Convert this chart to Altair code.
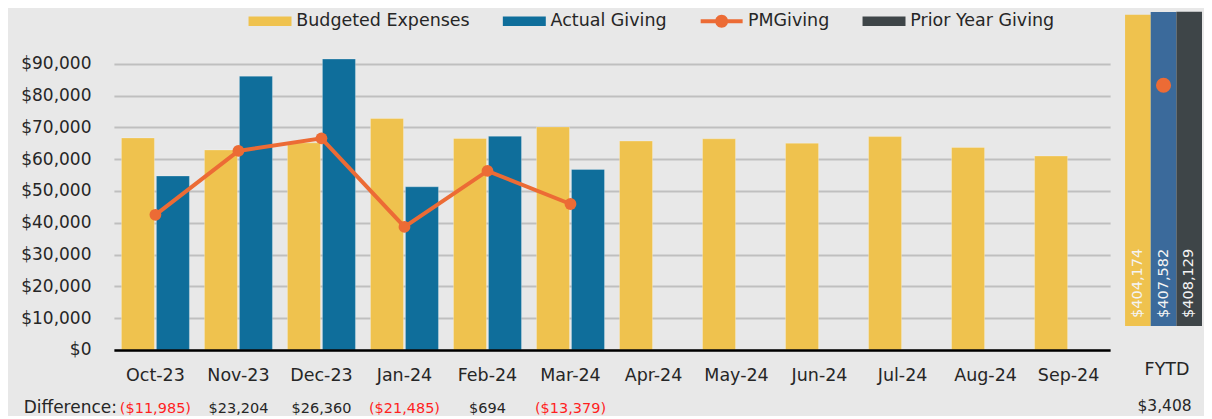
import altair as alt
import pandas as pd

# ---------------- data ----------------
months = ["Oct-23", "Nov-23", "Dec-23", "Jan-24", "Feb-24", "Mar-24",
          "Apr-24", "May-24", "Jun-24", "Jul-24", "Aug-24", "Sep-24"]
budgeted = [66685, 62896, 65140, 72785, 66506, 70161,
            65700, 66400, 65000, 67100, 63700, 61000]
actual = [54700, 86100, 91500, 51300, 67200, 56782]
pm_giving = [42500, 62600, 66550, 38700, 56300, 45900]
differences = [-11985, 23204, 26360, -21485, 694, -13379]

series_names = ["Budgeted Expenses", "Actual Giving", "PMGiving", "Prior Year Giving"]
fytd_names = ["Budgeted Expenses", "Actual Giving", "Prior Year Giving"]
fytd_values = [404174, 407582, 408129]
fytd_difference = 3408
y_ticks = [0, 10000, 20000, 30000, 40000, 50000, 60000, 70000, 80000, 90000]

# ---------------- styles ----------------
YELLOW = "#EFC24E"
BLUE = "#0F6E9B"
ORANGE = "#EC6B35"
DARK = "#3E4548"
FYTD_BLUE = "#3B6A9B"
TEXT = "#262626"
RED = "#FF1F1F"
BG = "#E8E8E8"
GRID = "#BFBFBF"
FONT = "DejaVu Sans"

W, H = 997, 335
FW, FH = 77, 311
Y_MAX = 105310
FYTD_MAX = 403587

RECT_PATH = "M-4.3,-0.95H4.3V0.95H-4.3Z"
PM_PATH = "M-4.2,-0.4H4.2V0.4H-4.2Z M-1.3,0A1.3,1.3 0 1,1 1.3,0A1.3,1.3 0 1,1 -1.3,0Z"

# ---------------- tables ----------------
bars_df = pd.DataFrame({
    "month": months + months[:len(actual)],
    "series": ["Budgeted Expenses"] * len(budgeted) + ["Actual Giving"] * len(actual),
    "value": budgeted + actual,
})
pm_df = pd.DataFrame({"month": months[:len(pm_giving)], "value": pm_giving})
diff_df = pd.DataFrame({"month": months[:len(differences)], "diff": differences})
diff_df["label"] = [f"(${abs(d):,})" if d < 0 else f"${d:,}" for d in differences]
legend_df = pd.DataFrame({"series": series_names})

color_scale = alt.Scale(domain=series_names, range=[YELLOW, BLUE, ORANGE, DARK])
shape_scale = alt.Scale(domain=series_names, range=[RECT_PATH, RECT_PATH, PM_PATH, RECT_PATH])

x_axis = alt.Axis(labelAngle=0, labelFontSize=17.5, labelColor=TEXT,
                  labelPadding=16.5, ticks=False, grid=False,
                  domainColor="#000000", domainWidth=2.5, zindex=1)
x_enc = alt.X("month:N", sort=months, title=None,
              scale=alt.Scale(paddingInner=0, paddingOuter=0), axis=x_axis)
y_scale = alt.Scale(domain=[0, Y_MAX], nice=False)
y_axis = alt.Axis(values=y_ticks, format="$,.0f", labelFontSize=17,
                  labelColor=TEXT, labelPadding=23, ticks=False,
                  domain=False, gridColor=GRID, gridWidth=2, labelOverlap=False)

legend = alt.Legend(
    title=None, orient="none", direction="horizontal",
    legendX=147.5, legendY=-3,
    symbolSize=100, symbolStrokeWidth=0, symbolOpacity=1,
    labelOffset=17.5, columnPadding=32.5, labelFontSize=17.5,
    labelColor=TEXT, labelLimit=400, labelFont=FONT,
)

bars = alt.Chart(bars_df).mark_bar(
    stroke="#FFFFFF", strokeOpacity=0.25, strokeWidth=1
).encode(
    x=x_enc,
    xOffset=alt.XOffset("series:N", sort=["Budgeted Expenses", "Actual Giving"],
                        scale=alt.Scale(domain=["Budgeted Expenses", "Actual Giving"],
                                        paddingInner=0.057, paddingOuter=0.215)),
    y=alt.Y("value:Q", scale=y_scale, title=None, axis=y_axis),
    color=alt.Color("series:N", scale=color_scale, legend=legend),
)

legend_layer = alt.Chart(legend_df).mark_point(filled=True, opacity=0, size=100).encode(
    color=alt.Color("series:N", scale=color_scale, legend=legend),
    shape=alt.Shape("series:N", scale=shape_scale, legend=legend),
)

line = alt.Chart(pm_df).mark_line(color=ORANGE, strokeWidth=4).encode(
    x=alt.X("month:N", sort=months, title=None, axis=x_axis),
    y=alt.Y("value:Q", title=None, axis=y_axis),
)
points = alt.Chart(pm_df).mark_circle(color=ORANGE, size=140, opacity=1).encode(
    x=alt.X("month:N", sort=months, title=None, axis=x_axis),
    y=alt.Y("value:Q", title=None, axis=y_axis),
)

diff_text = alt.Chart(diff_df).mark_text(
    fontSize=14.5, font=FONT, baseline="alphabetic"
).encode(
    x=alt.X("month:N", sort=months, title=None, axis=x_axis),
    y=alt.value(398),
    text="label:N",
    color=alt.condition("datum.diff < 0", alt.value(RED), alt.value(TEXT)),
)
diff_title = alt.Chart(pd.DataFrame({"label": ["Difference:"]})).mark_text(
    fontSize=17, font=FONT, baseline="alphabetic", align="right", color=TEXT
).encode(x=alt.value(3), y=alt.value(398), text="label:N")

main = alt.layer(bars, line, points, diff_text, diff_title, legend_layer).properties(
    width=W, height=H)

# ---------------- FYTD panel ----------------
fytd_df = pd.DataFrame({"series": fytd_names, "value": fytd_values})
fytd_x = alt.X("series:N", sort=fytd_names, title=None, axis=None,
               scale=alt.Scale(paddingInner=0, paddingOuter=0))
fytd_y_scale = alt.Scale(domain=[0, FYTD_MAX], nice=False)

fbars = alt.Chart(fytd_df).mark_bar().encode(
    x=fytd_x,
    y=alt.Y("value:Q", scale=fytd_y_scale, axis=None, title=None),
    color=alt.Color("series:N", scale=alt.Scale(domain=fytd_names,
                                                range=[YELLOW, FYTD_BLUE, DARK]),
                    legend=None),
)
flabels = alt.Chart(fytd_df).mark_text(
    angle=270, align="left", baseline="middle", dx=8,
    color="#F4F4F4", fontSize=14.5, font=FONT
).encode(
    x=fytd_x,
    y=alt.value(FH),
    text=alt.Text("value:Q", format="$,.0f"),
)
fdot = alt.Chart(pd.DataFrame({"series": ["Actual Giving"], "value": [sum(pm_giving)]})).mark_circle(
    color=ORANGE, size=230, opacity=1
).encode(x=fytd_x, y=alt.Y("value:Q", axis=None, title=None))
ftitle = alt.Chart(pd.DataFrame({"label": ["FYTD"]})).mark_text(
    fontSize=17.5, font=FONT, color=TEXT, baseline="alphabetic"
).encode(x=alt.value(42), y=alt.value(360), text="label:N")
fdiff = alt.Chart(pd.DataFrame({"label": [f"${fytd_difference:,}"]})).mark_text(
    fontSize=15.5, font=FONT, color=TEXT, baseline="alphabetic"
).encode(x=alt.value(39.5), y=alt.value(396), text="label:N")

fytd = alt.layer(fbars, flabels, fdot, ftitle, fdiff).properties(width=FW, height=FH)

chart = alt.hconcat(main, fytd, spacing=15, bounds="flush").resolve_scale(
    x="independent", y="independent", color="independent", shape="independent"
).resolve_legend(color="independent", shape="independent").properties(
    padding={"left": 12, "top": 3, "right": 2, "bottom": 0}
).configure(
    background=BG, font=FONT
).configure_view(stroke=None)

chart.save("out.html", embed_options={"renderer": "svg", "actions": False})
